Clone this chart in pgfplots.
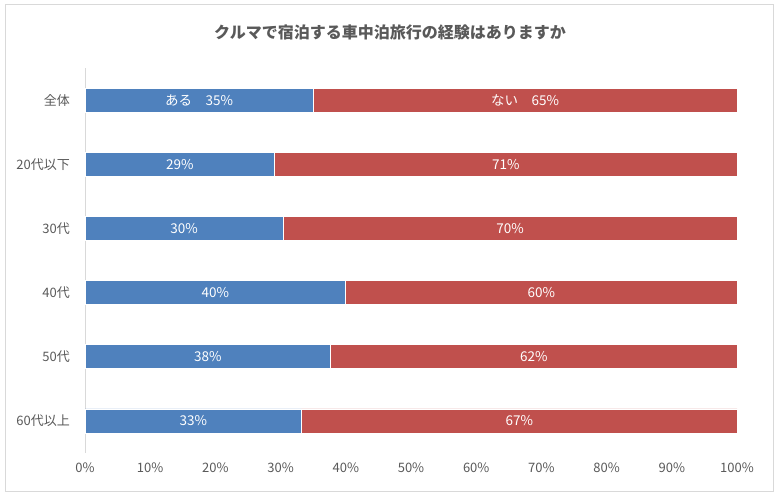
\documentclass[border=0pt]{standalone}
\usepackage{fontspec}
\setmainfont{Noto Sans CJK JP}
\usepackage{pgfplots}
\usepackage{pgfplotstable}
\pgfplotsset{compat=1.18}
\definecolor{cblue}{HTML}{4F81BD}
\definecolor{cred}{HTML}{C0504D}
\definecolor{ctext}{HTML}{595959}
\definecolor{cline}{HTML}{D9D9D9}
\pgfplotstableread{
idx yes no
5 35.0 65.0
4 29.1 70.9
3 30.4 69.6
2 40.0 60.0
1 37.7 62.3
0 33.2 66.8
}\datatable
\newcommand\lab[3]{\addplot[white, only marks, mark=text,
  text mark={\fontsize{13.5}{16}\selectfont\color{white}#3}] coordinates {(#1,#2)};}
\begin{document}
\begin{tikzpicture}[x=1pt,y=1pt]
\useasboundingbox (0,0) rectangle (780,497);
\draw[cline, line width=1pt] (5,5) rectangle (773,492);
\node[font=\fontsize{16}{19}\selectfont\bfseries, text=ctext] at (390,465) {クルマで宿泊する車中泊旅行の経験はありますか};
\begin{axis}[
  at={(85pt,44pt)}, anchor=south west,
  width=652pt, height=385pt, scale only axis,
  xbar stacked, bar width=24pt,
  xmin=0, xmax=100, ymin=-0.5, ymax=5.5,
  ytick={0,...,5},
  yticklabels={60代以上,50代,40代,30代,20代以下,全体},
  xtick={0,10,...,100},
  /pgf/number format/assume math mode=true,
  xticklabel={\pgfmathprintnumber{\tick}\%},
  axis lines*=left,
  separate axis lines,
  x axis line style={draw=none},
  y axis line style={draw=cline, line width=0.8pt},
  major tick length=0pt,
  tick style={draw=none},
  tick label style={font=\fontsize{13}{15}\selectfont, text=ctext, inner sep=0pt},
  yticklabel style={anchor=east, xshift=-15pt},
  xticklabel style={anchor=north, yshift=-10pt},
  clip=false,
]
\addplot[fill=cblue, draw=white, line width=0.8pt] table[x=yes, y=idx] {\datatable};
\addplot[fill=cred, draw=white, line width=0.8pt] table[x=no, y=idx] {\datatable};
\end{axis}
\begin{axis}[
  at={(85pt,44pt)}, anchor=south west,
  width=652pt, height=385pt, scale only axis,
  xmin=0, xmax=100, ymin=-0.5, ymax=5.5,
  hide axis, clip=false,
]
\lab{17.5}{5}{ある\hspace{1em}35\%}
\lab{67.5}{5}{ない\hspace{1em}65\%}
\lab{14.55}{4}{29\%}
\lab{64.55}{4}{71\%}
\lab{15.2}{3}{30\%}
\lab{65.2}{3}{70\%}
\lab{20}{2}{40\%}
\lab{70}{2}{60\%}
\lab{18.85}{1}{38\%}
\lab{68.85}{1}{62\%}
\lab{16.6}{0}{33\%}
\lab{66.6}{0}{67\%}
\end{axis}
\end{tikzpicture}
\end{document}
